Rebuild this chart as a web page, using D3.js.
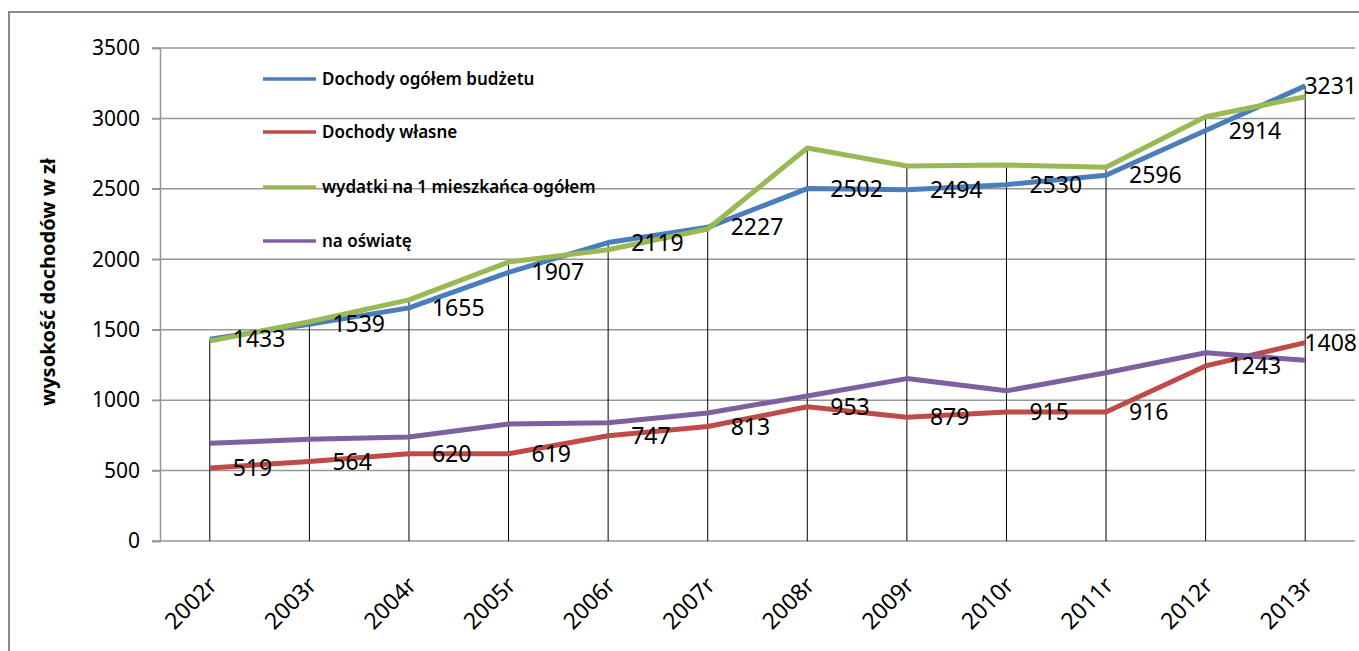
<!DOCTYPE html>
<html>
<head>
<meta charset="utf-8">
<script src="https://cdn.jsdelivr.net/npm/d3@7"></script>
<style>
  html, body { margin: 0; padding: 0; background: #fff; }
  svg { display: block; }
  text { font-family: "Noto Sans", "Open Sans", sans-serif; fill: #000; }
</style>
</head>
<body>
<svg id="chart" width="1359" height="651"></svg>
<script>
// Budget data per inhabitant, 2002–2013 (zł)
const years = ["2002r", "2003r", "2004r", "2005r", "2006r", "2007r", "2008r", "2009r", "2010r", "2011r", "2012r", "2013r"];
const dochodyOgolem = [1433, 1539, 1655, 1907, 2119, 2227, 2502, 2494, 2530, 2596, 2914, 3231];
const dochodyWlasne = [519, 564, 620, 619, 747, 813, 953, 879, 915, 916, 1243, 1408];
const wydatkiOgolem = [1420, 1557, 1712, 1980, 2068, 2215, 2790, 2662, 2670, 2653, 3012, 3154];
const naOswiate = [694, 722, 739, 830, 840, 909, 1030, 1153, 1066, 1194, 1336, 1283];
const yTicks = [0, 500, 1000, 1500, 2000, 2500, 3000, 3500];
const seriesNames = ["Dochody ogółem budżetu", "Dochody własne", "wydatki na 1 mieszkańca ogółem", "na oświatę"];
const seriesColors = ["#4a7ebb", "#be4b48", "#98b954", "#7d60a0"];
const yTitle = "wysokość dochodów w zł";

const series = [
  { name: seriesNames[0], values: dochodyOgolem, color: seriesColors[0], labels: true },
  { name: seriesNames[1], values: dochodyWlasne, color: seriesColors[1], labels: true },
  { name: seriesNames[2], values: wydatkiOgolem, color: seriesColors[2], labels: false },
  { name: seriesNames[3], values: naOswiate, color: seriesColors[3], labels: false }
];

const svg = d3.select("#chart");
const plot = { left: 160, right: 1355, top: 48, bottom: 541 };

const x = d3.scaleBand().domain(years).range([plot.left, plot.right]);
const y = d3.scaleLinear().domain([0, 3500]).range([plot.bottom, plot.top]);
const cx = d => x(d) + x.bandwidth() / 2;

// chart frame
svg.append("rect")
  .attr("x", 9).attr("y", 12).attr("width", 1400).attr("height", 700)
  .attr("fill", "none").attr("stroke", "#8a8a8a").attr("stroke-width", 2);

// horizontal gridlines
svg.append("g").selectAll("line").data(yTicks.slice(1)).join("line")
  .attr("x1", plot.left - 8).attr("x2", plot.right)
  .attr("y1", d => y(d)).attr("y2", d => y(d))
  .attr("stroke", "#969696").attr("stroke-width", 1.5);

// y axis
const yAxis = svg.append("g")
  .attr("transform", `translate(${plot.left},0)`)
  .call(d3.axisLeft(y).tickValues(yTicks).tickSize(8).tickPadding(12).tickFormat(d3.format("d")));
yAxis.select(".domain").attr("stroke", "#969696").attr("stroke-width", 1.5);
yAxis.selectAll(".tick line").attr("stroke", "#969696").attr("stroke-width", 1.5);
yAxis.selectAll(".tick text").attr("font-size", 21).attr("font-family", "Noto Sans").attr("fill", "#000");

// x axis baseline
svg.append("line")
  .attr("x1", plot.left - 8).attr("x2", plot.right)
  .attr("y1", y(0)).attr("y2", y(0))
  .attr("stroke", "#969696").attr("stroke-width", 1.5);

// drop lines from the highest point in each year
svg.append("g").selectAll("line").data(years).join("line")
  .attr("x1", d => cx(d)).attr("x2", d => cx(d))
  .attr("y1", (d, i) => y(d3.max(series, s => s.values[i])))
  .attr("y2", y(0))
  .attr("stroke", "#000").attr("stroke-width", 1);

// x tick labels
svg.append("g").selectAll("text").data(years).join("text")
  .attr("transform", d => `translate(${cx(d) + 3},${y(0) + 40}) rotate(-45)`)
  .attr("text-anchor", "end")
  .attr("dy", "0.35em")
  .attr("font-size", 23)
  .text(d => d);

// y axis title
svg.append("text")
  .attr("transform", "translate(48,282) rotate(-90)")
  .attr("text-anchor", "middle")
  .attr("dy", "0.35em")
  .attr("font-size", 20)
  .attr("font-weight", "bold")
  .text(yTitle);

// series lines
const line = d3.line().x((d, i) => cx(years[i])).y(d => y(d));
svg.append("g").selectAll("path").data(series).join("path")
  .attr("d", s => line(s.values))
  .attr("fill", "none")
  .attr("stroke", s => s.color)
  .attr("stroke-width", 5)
  .attr("stroke-linejoin", "round");

// data labels
series.filter(s => s.labels).forEach(s => {
  svg.append("g").selectAll("text").data(s.values).join("text")
    .attr("x", (d, i) => i === years.length - 1 ? plot.right + 2 : cx(years[i]) + 23)
    .attr("y", d => y(d))
    .attr("dy", "0.35em")
    .attr("text-anchor", (d, i) => i === years.length - 1 ? "end" : "start")
    .attr("font-size", 23)
    .text(d => d);
});

// legend
const legendY = [79, 132, 187, 241];
const legend = svg.append("g").selectAll("g").data(series).join("g")
  .attr("transform", (s, i) => `translate(263,${legendY[i]})`);
legend.append("line")
  .attr("x1", 0).attr("x2", 53).attr("y1", 0).attr("y2", 0)
  .attr("stroke", s => s.color).attr("stroke-width", 3.5);
legend.append("text")
  .attr("x", 59).attr("dy", "0.35em")
  .attr("font-size", 17).attr("font-weight", 600)
  .text(s => s.name);
</script>
</body>
</html>
